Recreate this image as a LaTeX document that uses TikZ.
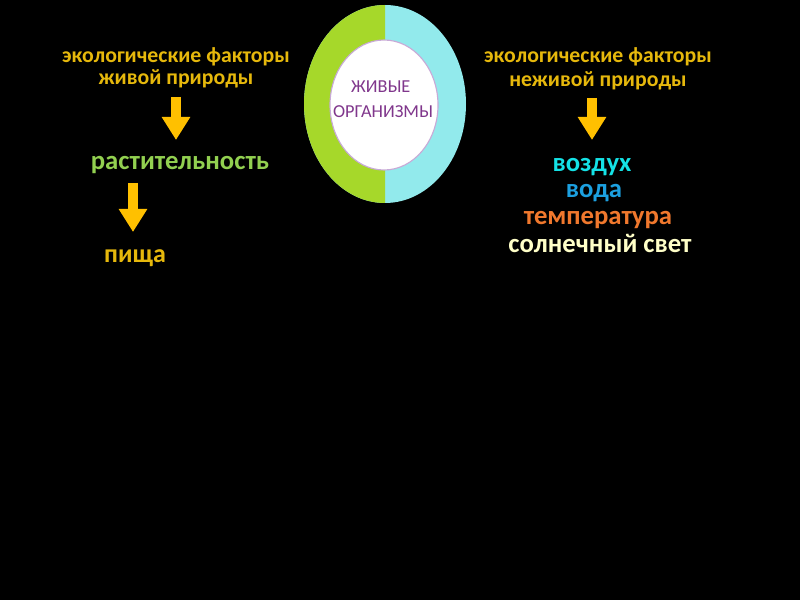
\documentclass[tikz,border=0pt]{standalone}
\usepackage{fontspec}
\setmainfont{Carlito}
\usetikzlibrary{arrows.meta, calc, math}
\definecolor{ogreen}{RGB}{166,216,42}
\definecolor{ocyan}{RGB}{146,234,236}
\definecolor{opurple}{RGB}{128,55,140}
\definecolor{oborder}{RGB}{200,170,215}
\definecolor{fgold}{RGB}{230,184,12}
\definecolor{fyellow}{RGB}{255,192,0}
\definecolor{fgreen}{RGB}{146,208,80}
\definecolor{faqua}{RGB}{20,226,230}
\definecolor{fblue}{RGB}{28,160,224}
\definecolor{forange}{RGB}{240,120,45}
\definecolor{fcream}{RGB}{255,255,200}

\tikzset{
  factor/.style={inner sep=0pt, anchor=base, font=\fontsize{15.5}{18}\selectfont\bfseries},
  item/.style={inner sep=0pt, anchor=base, font=\fontsize{19}{22}\selectfont\bfseries},
  blockarrow/.style={draw=fyellow, line width=0.25cm, -{Triangle[width=0.675cm,length=0.575cm]}}
}

\begin{document}
\begin{tikzpicture}
\tikzmath{
\cx=9.625;
\cy=12.4;
\Rx=2.025;
\Ry=2.475;
\rx=1.35;
\ry=1.625;
}
\fill[black] (0,0) rectangle (20,15);
\useasboundingbox (0,0) rectangle (20,15);

%organisms:
 \fill[ocyan] (\cx,\cy) ellipse[x radius=\Rx, y radius=\Ry];
 \fill[ogreen] (\cx,\cy+\Ry) arc[start angle=90, end angle=270, x radius=\Rx, y radius=\Ry] -- cycle;
 \filldraw[fill=white, draw=oborder, line width=0.8pt] (\cx-0.025,\cy-0.025) ellipse[x radius=\rx, y radius=\ry];
 \node[inner sep=0pt, anchor=base, color=opurple, font=\fontsize{13}{15}\selectfont] (org1) at (9.52,12.675) {ЖИВЫЕ};
 \node[inner sep=0pt, anchor=base, color=opurple, font=\fontsize{13}{15}\selectfont] (org2) at (9.575,12.05) {ОРГАНИЗМЫ};

%living factors
 \node[factor, color=fgold] (bio1) at (4.4,13.425) {экологические факторы};
 \node[factor, color=fgold] (bio2) at (4.4,12.875) {живой природы};
 \node[item, color=fgreen] (plant) at (4.5,10.75) {растительность};
 \node[item, font=\fontsize{18.5}{22}\selectfont\bfseries, color=fgold] (food) at (3.375,8.425) {пища};
 \draw[blockarrow] ([yshift=-0.3cm]bio2.base) -- ($(bio2.base |- plant.base)+(0,0.75)$);
 \draw[blockarrow] ($(food.base |- plant.base)+(-0.05,-0.325)$) -- ([xshift=-0.05cm,yshift=0.775cm]food.base);

%non-living factors
 \node[factor, color=fgold] (abio1) at (14.95,13.425) {экологические факторы};
 \node[factor, color=fgold] (abio2) at (14.95,12.825) {неживой природы};
 \node[item, color=faqua] (air) at (14.8,10.7) {воздух};
 \node[item, color=fblue] (water) at (14.85,10.05) {вода};
 \node[item, color=forange] (temp) at (14.95,9.375) {температура};
 \node[item, color=fcream] (sun) at (15.0,8.7) {солнечный свет};
 \draw[blockarrow] ($(air.base |- abio2.base)+(0,-0.275)$) -- ([yshift=0.8cm]air.base);
\end{tikzpicture}
\end{document}
